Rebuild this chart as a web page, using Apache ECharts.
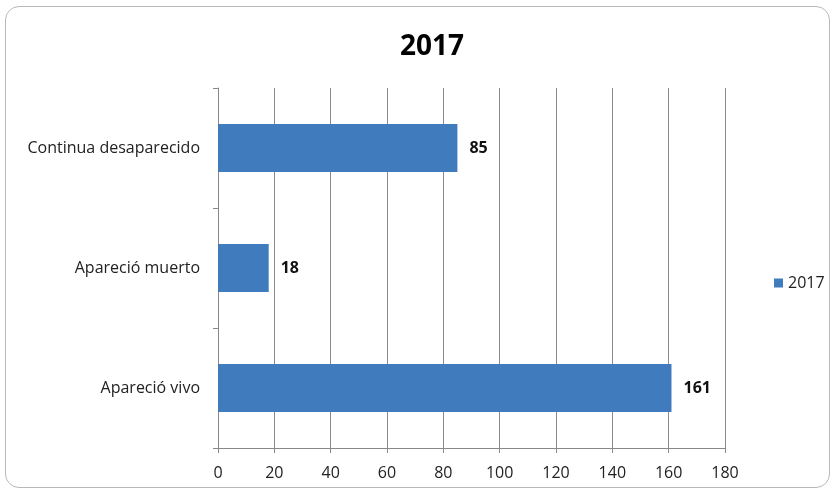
<!DOCTYPE html>
<html><head><meta charset="utf-8">
<script src="https://cdn.jsdelivr.net/npm/echarts@6/dist/echarts.min.js"></script>
<style>html,body{margin:0;padding:0;background:#fff}
#frame{position:absolute;left:5px;top:6px;width:825px;height:482px;border:1.5px solid #b8b8b8;border-radius:14px;box-sizing:border-box}
#c{position:absolute;left:0;top:0;width:837px;height:494px}</style>
</head><body>
<div id="frame"></div>
<div id="c"></div>
<script>
const categories = ['Apareció vivo', 'Apareció muerto', 'Continua desaparecido'];
const values2017 = [161, 18, 85];
const seriesName = '2017';
const xTicks = {min: 0, max: 180, interval: 20};

const chart = echarts.init(document.getElementById('c'));
const font = '"Open Sans", "Noto Sans", sans-serif';
chart.setOption({
  animation: false,
  title: {text: '2017', left: 427, textAlign: 'center', top: 28,
    textStyle: {fontFamily: font, fontSize: 28, fontWeight: 'bold', color: '#000'}},
  legend: {data: [seriesName], left: 769, top: 270, itemWidth: 9, itemHeight: 9, itemGap: 5,
    icon: 'rect', textStyle: {fontFamily: font, fontSize: 16, color: '#222'}},
  grid: {left: 218, right: 112, top: 88, bottom: 46, containLabel: false},
  xAxis: {type: 'value', min: xTicks.min, max: xTicks.max, interval: xTicks.interval,
    axisLine: {show: true, lineStyle: {color: '#888', width: 1}},
    axisTick: {show: true, length: 5, lineStyle: {color: '#888'}},
    axisLabel: {fontFamily: font, fontSize: 16, color: '#222', margin: 17},
    splitLine: {show: true, lineStyle: {color: '#8a8a8a', width: 1}}},
  yAxis: {type: 'category', data: categories,
    axisLine: {show: true, lineStyle: {color: '#888', width: 1}},
    axisTick: {show: true, length: 5, lineStyle: {color: '#888'}},
    axisLabel: {fontFamily: font, fontSize: 16, color: '#222', margin: 18}},
  series: [{name: seriesName, type: 'bar', data: values2017, barWidth: 48,
    itemStyle: {color: '#3f7bbd'},
    label: {show: true, position: 'right', distance: 12, fontFamily: font, fontSize: 16,
      fontWeight: 'bold', color: '#111'}}]
});
</script>
</body></html>
